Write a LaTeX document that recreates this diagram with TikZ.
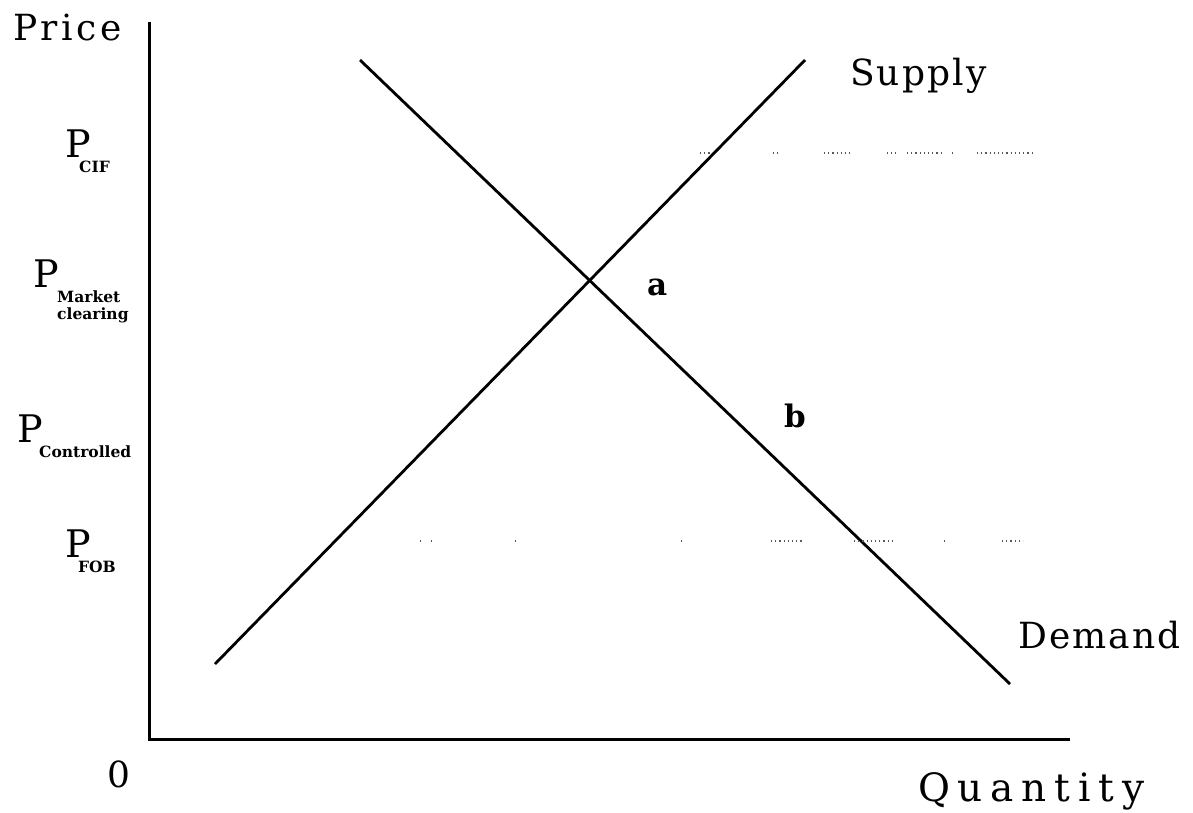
\documentclass[tikz,border=0pt]{standalone}
\usepackage{fontspec}
\setmainfont{DejaVu Serif}[LetterSpace=6]
\newfontfamily\subfont{DejaVu Serif}[BoldFont={DejaVu Serif Bold}]
\begin{document}
\begin{tikzpicture}[x=1pt,y=-1pt,
  lbl/.style={inner sep=0pt,anchor=base west,font=\fontsize{36}{40}\selectfont},
  plbl/.style={inner sep=0pt,anchor=base west,text depth=0pt,font=\fontsize{38}{40}\selectfont},
  sublbl/.style={inner sep=0pt,anchor=base west,font=\subfont\bfseries\fontsize{15.5}{17}\selectfont},
  ptlbl/.style={inner sep=0pt,anchor=base west,font=\subfont\bfseries\fontsize{31}{34}\selectfont},
  axisline/.style={line width=3pt,line cap=rect},
  curve/.style={line width=2.8pt},
  dots/.style={line width=1.4pt,black!65,dash pattern=on 1.2pt off 3pt}]
\useasboundingbox (0,0) rectangle (1193,812);
% axes
\coordinate (ytop) at (149,23);
\coordinate (origin) at (149,739);
\coordinate (xend) at (1068,739);
\draw[axisline] (ytop) -- (origin) -- (xend);
% supply and demand
\coordinate (s1) at (215,664);
\coordinate (s2) at (805,60);
\coordinate (d1) at (360,60);
\coordinate (d2) at (1010,684);
\draw[curve] (s1) -- (s2);
\draw[curve] (d1) -- (d2);
% faint dotted price lines
\foreach \a/\b in {700/710,773/781,824/852,887/896,907/942,952/955,977/1035}
  \draw[dots] (\a,153) -- (\b,153);
\foreach \a/\b in {420/424,431/435,515/518,681/684,771/804,854/894,944/947,1002/1023}
  \draw[dots] (\a,541) -- (\b,541);
% axis labels
\node[lbl,font=\fontsize{36}{40}\selectfont\addfontfeature{LetterSpace=10}] (price) at (13,40) {Price};
\node[lbl,font=\fontsize{39}{42}\selectfont\addfontfeature{LetterSpace=20}] (qty) at (918,801) {Quantity};
\node[lbl] (zero) at (107,787) {0};
\node[lbl] (supply) at (850,85) {Supply};
\node[lbl] (demand) at (1018,648) {Demand};
% price labels
\node[plbl] (pcif) at (65,157) {P};
\node[sublbl] (pcifs) at (79,172) {CIF};
\node[plbl] (pmc) at (33,287) {P};
\node[sublbl] (pmcs1) at (57,302) {Market};
\node[sublbl] (pmcs2) at (57,319) {clearing};
\node[plbl] (pc) at (17,442) {P};
\node[sublbl] (pcs) at (39,457) {Controlled};
\node[plbl] (pfob) at (65,557) {P};
\node[sublbl] (pfobs) at (78,572) {FOB};
% points
\node[ptlbl] (pa) at (647,295) {a};
\node[ptlbl] (pb) at (784,427) {b};
\end{tikzpicture}
\end{document}
